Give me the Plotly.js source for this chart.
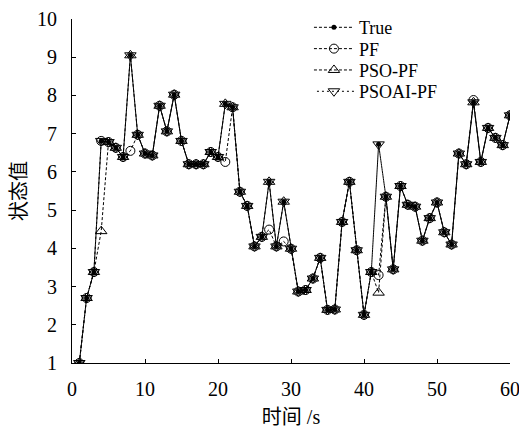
<!DOCTYPE html>
<html>
<head>
<meta charset="utf-8">
<script src="https://cdn.plot.ly/plotly-3.0.1.min.js"></script>
<style>html,body{margin:0;padding:0;background:#fff;}#chart{width:519px;height:429px;}</style>
</head>
<body>
<div id="chart"></div>
<script>
const t = [1,2,3,4,5,6,7,8,9,10,11,12,13,14,15,16,17,18,19,20,21,22,23,24,25,26,27,28,29,30,31,32,33,34,35,36,37,38,39,40,41,42,43,44,45,46,47,48,49,50,51,52,53,54,55,56,57,58,59,60];
const trueVals = [1.00,2.70,3.38,6.81,6.78,6.63,6.39,9.05,6.97,6.48,6.43,7.73,7.06,8.02,6.81,6.20,6.20,6.20,6.52,6.39,7.78,7.69,5.48,5.11,4.05,4.30,5.74,4.05,5.22,3.99,2.87,2.91,3.21,3.75,2.39,2.40,4.69,5.74,3.95,2.26,3.38,6.72,5.35,3.45,5.63,5.14,5.09,4.20,4.79,5.20,4.42,4.10,6.48,6.20,7.82,6.26,7.15,6.89,6.70,7.48];
const pfVals = [1.00,2.70,3.38,6.81,6.78,6.63,6.39,6.55,6.97,6.48,6.43,7.73,7.06,8.02,6.81,6.20,6.20,6.20,6.52,6.39,6.26,7.69,5.48,5.11,4.05,4.30,4.49,4.05,4.18,3.99,2.87,2.91,3.21,3.75,2.39,2.40,4.69,5.74,3.95,2.26,3.38,3.30,5.35,3.45,5.63,5.14,5.09,4.20,4.79,5.20,4.42,4.10,6.48,6.20,7.88,6.26,7.15,6.89,6.70,7.48];
const psoVals = [1.00,2.70,3.38,4.45,6.78,6.63,6.39,9.05,6.97,6.48,6.43,7.73,7.06,8.02,6.81,6.20,6.20,6.20,6.52,6.39,7.78,7.69,5.48,5.11,4.05,4.30,5.74,4.05,5.22,3.99,2.87,2.91,3.21,3.75,2.39,2.40,4.69,5.74,3.95,2.26,3.38,2.84,5.35,3.45,5.63,5.14,5.09,4.20,4.79,5.20,4.42,4.10,6.48,6.20,7.82,6.26,7.15,6.89,6.70,7.48];
const psoaiVals = [1.00,2.70,3.38,6.81,6.78,6.63,6.39,9.05,6.97,6.48,6.43,7.73,7.06,8.02,6.81,6.20,6.20,6.20,6.52,6.39,7.78,7.69,5.48,5.11,4.05,4.30,5.74,4.05,5.22,3.99,2.87,2.91,3.21,3.75,2.39,2.40,4.69,5.74,3.95,2.26,3.38,6.72,5.35,3.45,5.63,5.14,5.09,4.20,4.79,5.20,4.42,4.10,6.48,6.20,7.82,6.26,7.15,6.89,6.70,7.48];
const names = ['True','PF','PSO-PF','PSOAI-PF'];
const xTicks = [0,10,20,30,40,50,60];
const yTicks = [1,2,3,4,5,6,7,8,9,10];

const serif = 'Liberation Serif, Noto Sans CJK SC, serif';
const traces = [
  {x:t, y:trueVals, name:names[0], legend:'legend', mode:'lines+markers',
   line:{color:'#000', width:1, dash:'3px,2px'},
   marker:{symbol:'circle', size:5, color:'#000'}},
  {x:t, y:pfVals, name:names[1], legend:'legend2', mode:'lines+markers',
   line:{color:'#000', width:1, dash:'3px,2px'},
   marker:{symbol:'circle-open', size:9, color:'#000', line:{width:1}}},
  {x:t, y:psoVals, name:names[2], legend:'legend3', mode:'lines+markers',
   line:{color:'#000', width:1, dash:'3px,2px'},
   marker:{symbol:'triangle-up-open', size:10, color:'#000', line:{width:1}}},
  {x:t, y:psoaiVals, name:names[3], legend:'legend4', mode:'lines+markers',
   line:{color:'#000', width:1, dash:'0px,3px,2px,0px'},
   marker:{symbol:'triangle-down-open', size:10, color:'#000', line:{width:1}}}
];

function leg(yc){
  return {x:0.541, y:yc, xanchor:'left', yanchor:'middle', bgcolor:'rgba(0,0,0,0)',
          font:{family:serif, size:18, color:'#000'}, itemwidth:40, borderwidth:0};
}

const layout = {
  width:519, height:429,
  margin:{l:72, r:9, t:19, b:66},
  paper_bgcolor:'#fff', plot_bgcolor:'#fff',
  font:{family:serif, size:20, color:'#000'},
  showlegend:true,
  legend:leg(0.975), legend2:leg(0.913), legend3:leg(0.851), legend4:leg(0.789),
  xaxis:{range:[0,60], tickvals:xTicks, ticktext:xTicks.map(String),
         ticks:'inside', ticklen:4, tickcolor:'#000', showline:true, linecolor:'#000', linewidth:1,
         showgrid:false, zeroline:false, mirror:false, ticklabelstandoff:8,
         ticklabeloverflow:'allow',
         tickfont:{family:serif, size:20},
         title:{text:'时间 /s', font:{family:serif, size:20}, standoff:10}},
  yaxis:{range:[1,10], tickvals:yTicks, ticktext:yTicks.map(String),
         ticks:'inside', ticklen:4, tickcolor:'#000', showline:true, linecolor:'#000', linewidth:1,
         showgrid:false, zeroline:false, mirror:false, ticklabelstandoff:10,
         ticklabeloverflow:'allow',
         tickfont:{family:serif, size:20},
         title:{text:'状态值', font:{family:serif, size:20}, standoff:5}}
};
Plotly.newPlot('chart', traces, layout, {displayModeBar:false, staticPlot:true});
</script>
</body>
</html>
